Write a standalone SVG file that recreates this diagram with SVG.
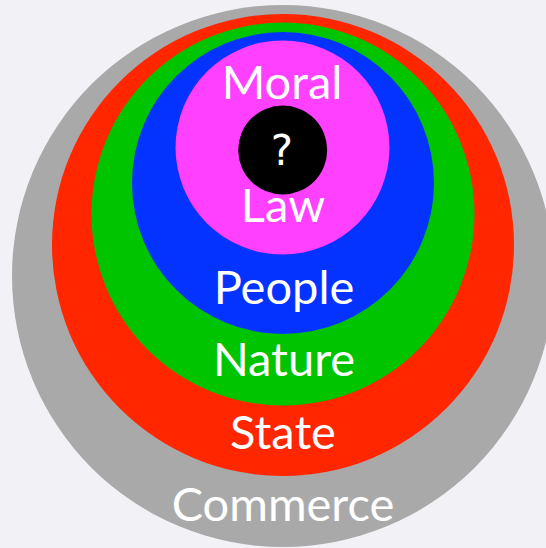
<svg xmlns="http://www.w3.org/2000/svg" width="546" height="548" viewBox="0 0 546 548">
<style>
.lbl{font-family:Lato,"Open Sans","Liberation Sans",sans-serif;font-size:47px;fill:#ffffff;text-anchor:middle}
.q{font-family:"DejaVu Sans","Liberation Sans",sans-serif;font-size:42px;fill:#ffffff;text-anchor:middle}
</style>
<rect width="546" height="548" fill="#f2f2f6"/>
<g id="commerce"><circle cx="283" cy="276" r="271" fill="#a9a9a9"/><text class="lbl" x="283" y="521">Commerce</text></g>
<g id="state"><circle cx="283" cy="245" r="231" fill="#ff2600"/><text class="lbl" x="283" y="449">State</text></g>
<g id="nature"><circle cx="283" cy="214" r="191.5" fill="#00c400"/><text class="lbl" x="284" y="376">Nature</text></g>
<g id="people"><circle cx="283" cy="183" r="151" fill="#0433ff"/><text class="lbl" x="284" y="304">People</text></g>
<g id="moral-law"><circle cx="282.5" cy="147.5" r="107" fill="#ff40ff"/><text class="lbl" x="282" y="98.5">Moral</text><text class="lbl" x="283" y="222">Law</text></g>
<g id="unknown"><circle cx="282.7" cy="150" r="44.5" fill="#000000"/><text class="q" x="282" y="165">?</text></g>
<g id="connectors"/>
</svg>
